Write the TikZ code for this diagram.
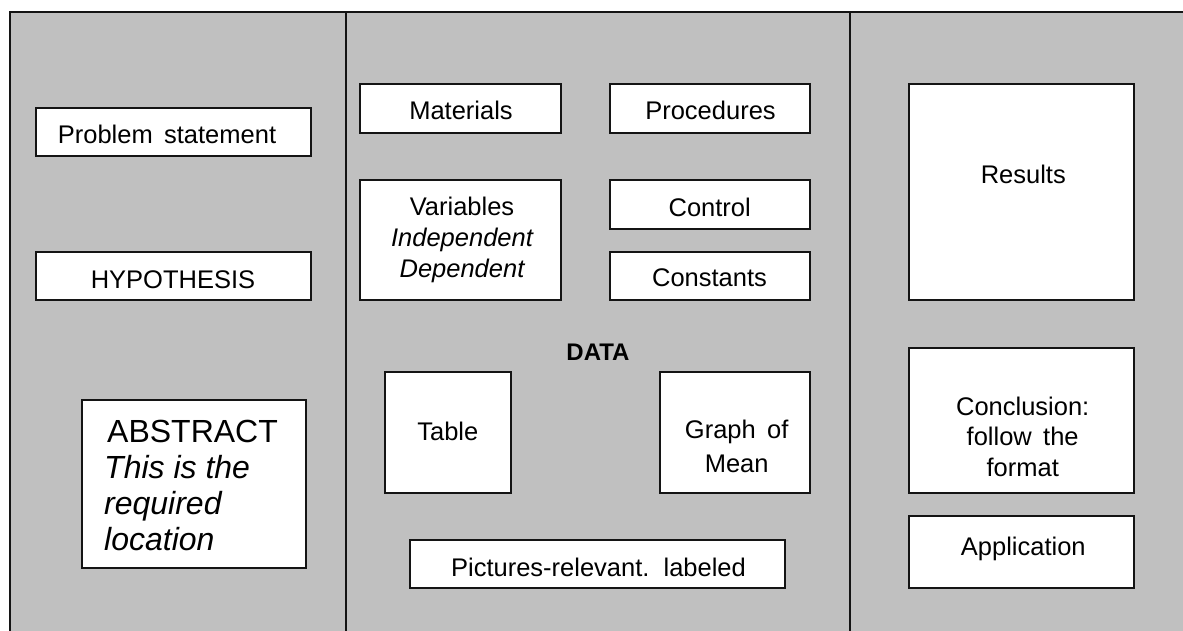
\documentclass[tikz,border=0pt]{standalone}
\usepackage{fontspec}
\setmainfont{Liberation Sans}
\usetikzlibrary{positioning}
\definecolor{panelgray}{RGB}{192,192,192}
\definecolor{edge}{RGB}{20,20,20}
\begin{document}
\begin{tikzpicture}[x=1pt,y=-1pt,
  boxnode/.style={draw=edge, fill=white, line width=1.5pt, rectangle, inner sep=0pt},
  txt/.style={inner sep=0pt, font=\fontsize{25.5}{31}\selectfont, anchor=base, align=center},
  bigtxt/.style={inner sep=0pt, font=\fontsize{32}{36}\selectfont, anchor=base west, align=left}]
\useasboundingbox (0,0) rectangle (1183,631);
\clip (0,0) rectangle (1183,631);
% panel
\fill[white] (0,0) rectangle (1183,631);
\draw[fill=panelgray, draw=edge, line width=1.5pt] (10,12) rectangle (1200,650);
\coordinate (d1t) at (346,12);
\coordinate (d1b) at (346,650);
\coordinate (d2t) at (850,12);
\coordinate (d2b) at (850,650);
\draw[edge, line width=1.5pt] (d1t) -- (d1b);
\draw[edge, line width=1.5pt] (d2t) -- (d2b);
% left panel
\node[boxnode, minimum width=275, minimum height=48] (prob) at (173.5,132) {};
\node[txt] (probt) at (167,144) {Problem\, statement};
\node[boxnode, minimum width=275, minimum height=48] (hyp) at (173.5,276) {};
\node[txt] (hypt) at (173,288.3) {HYPOTHESIS};
\node[boxnode, minimum width=224, minimum height=168] (abs) at (194,484) {};
\node[bigtxt] (abst) at (104,550.7) {\hspace{3pt}ABSTRACT\\\itshape This is the\\\itshape required\\\itshape location};
% middle panel
\node[boxnode, minimum width=201, minimum height=49] (mat) at (460.5,108.5) {};
\node[txt] (matt) at (461,120) {Materials};
\node[boxnode, minimum width=200, minimum height=49] (proc) at (710,108.5) {};
\node[txt] (proct) at (710.5,120) {Procedures};
\node[boxnode, minimum width=201, minimum height=120] (var) at (460.5,240) {};
\node[txt] (vart) at (462,277) {Variables\\\itshape Independent\\\itshape Dependent};
\node[boxnode, minimum width=200, minimum height=49] (ctrl) at (710,204.5) {};
\node[txt] (ctrlt) at (709.7,216) {Control};
\node[boxnode, minimum width=200, minimum height=48] (const) at (710,276) {};
\node[txt] (constt) at (709.5,286.7) {Constants};
\node[txt, font=\fontsize{24}{28}\selectfont\bfseries] (data) at (598,360) {DATA};
\node[boxnode, minimum width=126, minimum height=121] (table) at (448,432.5) {};
\node[txt] (tablet) at (447.8,440.7) {Table};
\node[boxnode, minimum width=150, minimum height=121] (graph) at (735,432.5) {};
\node[txt, font=\fontsize{25.5}{34.5}\selectfont] (grapht) at (736.7,472.7) {Graph\, of\\Mean};
\node[boxnode, minimum width=375, minimum height=48] (pics) at (597.5,564) {};
\node[txt] (picst) at (598.5,576.7) {Pictures-relevant.\ \ labeled};
% right panel
\node[boxnode, minimum width=225, minimum height=216] (res) at (1021.5,192) {};
\node[txt] (rest) at (1023.3,184) {Results};
\node[boxnode, minimum width=225, minimum height=145] (concl) at (1021.5,420.5) {};
\node[txt, font=\fontsize{25.5}{30.8}\selectfont] (conclt) at (1022.7,476.7) {Conclusion:\\follow\, the\\format};
\node[boxnode, minimum width=225, minimum height=72] (app) at (1021.5,552) {};
\node[txt] (appt) at (1023.3,555) {Application};
\end{tikzpicture}
\end{document}
